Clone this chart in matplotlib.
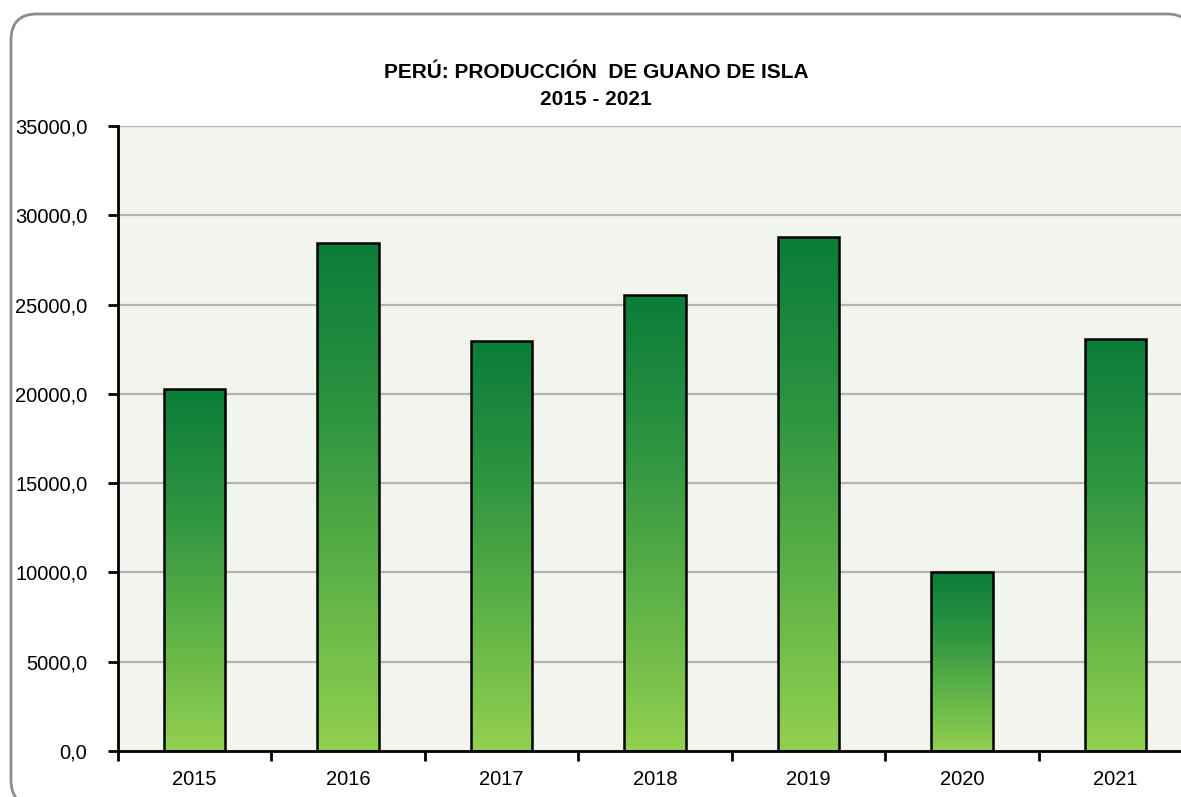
import matplotlib
matplotlib.use("Agg")
import matplotlib.pyplot as plt
import numpy as np
from matplotlib.patches import FancyBboxPatch
from matplotlib.colors import LinearSegmentedColormap
from matplotlib import font_manager

years = ["2015", "2016", "2017", "2018", "2019", "2020", "2021"]
production = [20270, 28440, 22960, 25540, 28780, 10020, 23070]
yticks = [0, 5000, 10000, 15000, 20000, 25000, 30000, 35000]
ytick_labels = ["0,0", "5000,0", "10000,0", "15000,0", "20000,0", "25000,0", "30000,0", "35000,0"]
title = "PERÚ: PRODUCCIÓN  DE GUANO DE ISLA\n2015 - 2021"

names = {f.name for f in font_manager.fontManager.ttflist}
fam = ["Liberation Sans Narrow", "Liberation Sans", "DejaVu Sans"]
fam = [f for f in fam if f in names] or ["DejaVu Sans"]
plt.rcParams["font.family"] = fam

W, H = 1181, 797
fig = plt.figure(figsize=(W / 100, H / 100), dpi=100)
fig.patch.set_facecolor("white")

# rounded frame
frame = FancyBboxPatch((11 / W, 1 - 806 / H), (1193 - 11) / W, (806 - 14) / H,
                       boxstyle="round,pad=0,rounding_size=0.022",
                       transform=fig.transFigure, facecolor="white",
                       edgecolor="#8c8c8c", linewidth=2, zorder=-5,
                       mutation_aspect=W / H)
fig.patches.append(frame)

left, right, top, bottom = 118, 1192, 126, 751
ax = fig.add_axes([left / W, 1 - bottom / H, (right - left) / W, (bottom - top) / H])
ax.set_zorder(2)
ax.set_facecolor("#f2f4ee")
ax.set_xlim(-0.5, len(years) - 0.5)
ax.set_ylim(0, 35000)

for y in yticks[1:]:
    ax.axhline(y, color="#b4b4b4", linewidth=1.6, zorder=1)

cmap = LinearSegmentedColormap.from_list("g", ["#92d050", "#5fb247", "#2e9440", "#0a7d3a"])
grad = np.linspace(0, 1, 256).reshape(-1, 1)
x = np.arange(len(years))
bars = ax.bar(x, production, width=0.4, facecolor="none", edgecolor="black",
              linewidth=1.8, zorder=3)
for b in bars:
    bx, by = b.get_x(), b.get_y()
    bw, bh = b.get_width(), b.get_height()
    im = ax.imshow(grad, cmap=cmap, aspect="auto", origin="lower",
                   extent=[bx, bx + bw, by, by + bh], zorder=2)
    im.set_clip_path(b)
ax.set_xlim(-0.5, len(years) - 0.5)
ax.set_ylim(0, 35000)

ax.set_yticks(yticks)
ax.set_yticklabels(ytick_labels, fontsize=14.5)
ax.set_xticks(x)
ax.set_xticklabels(years, fontsize=14.5)
ax.set_xticks(np.arange(len(years) + 1) - 0.5, minor=True)
ax.tick_params(axis="x", which="major", length=0, pad=14)
ax.tick_params(axis="x", which="minor", length=7, width=2, direction="out")
ax.tick_params(axis="y", length=7, width=2, direction="out", pad=15)

for s in ["top", "right"]:
    ax.spines[s].set_visible(False)
for s in ["left", "bottom"]:
    ax.spines[s].set_linewidth(2)
    ax.spines[s].set_color("black")

fig.text(596 / W, 1 - 86 / H, title, ha="center", va="center",
         fontsize=15, fontweight="bold", linespacing=1.5)

fig.savefig("out.png", dpi=100)
